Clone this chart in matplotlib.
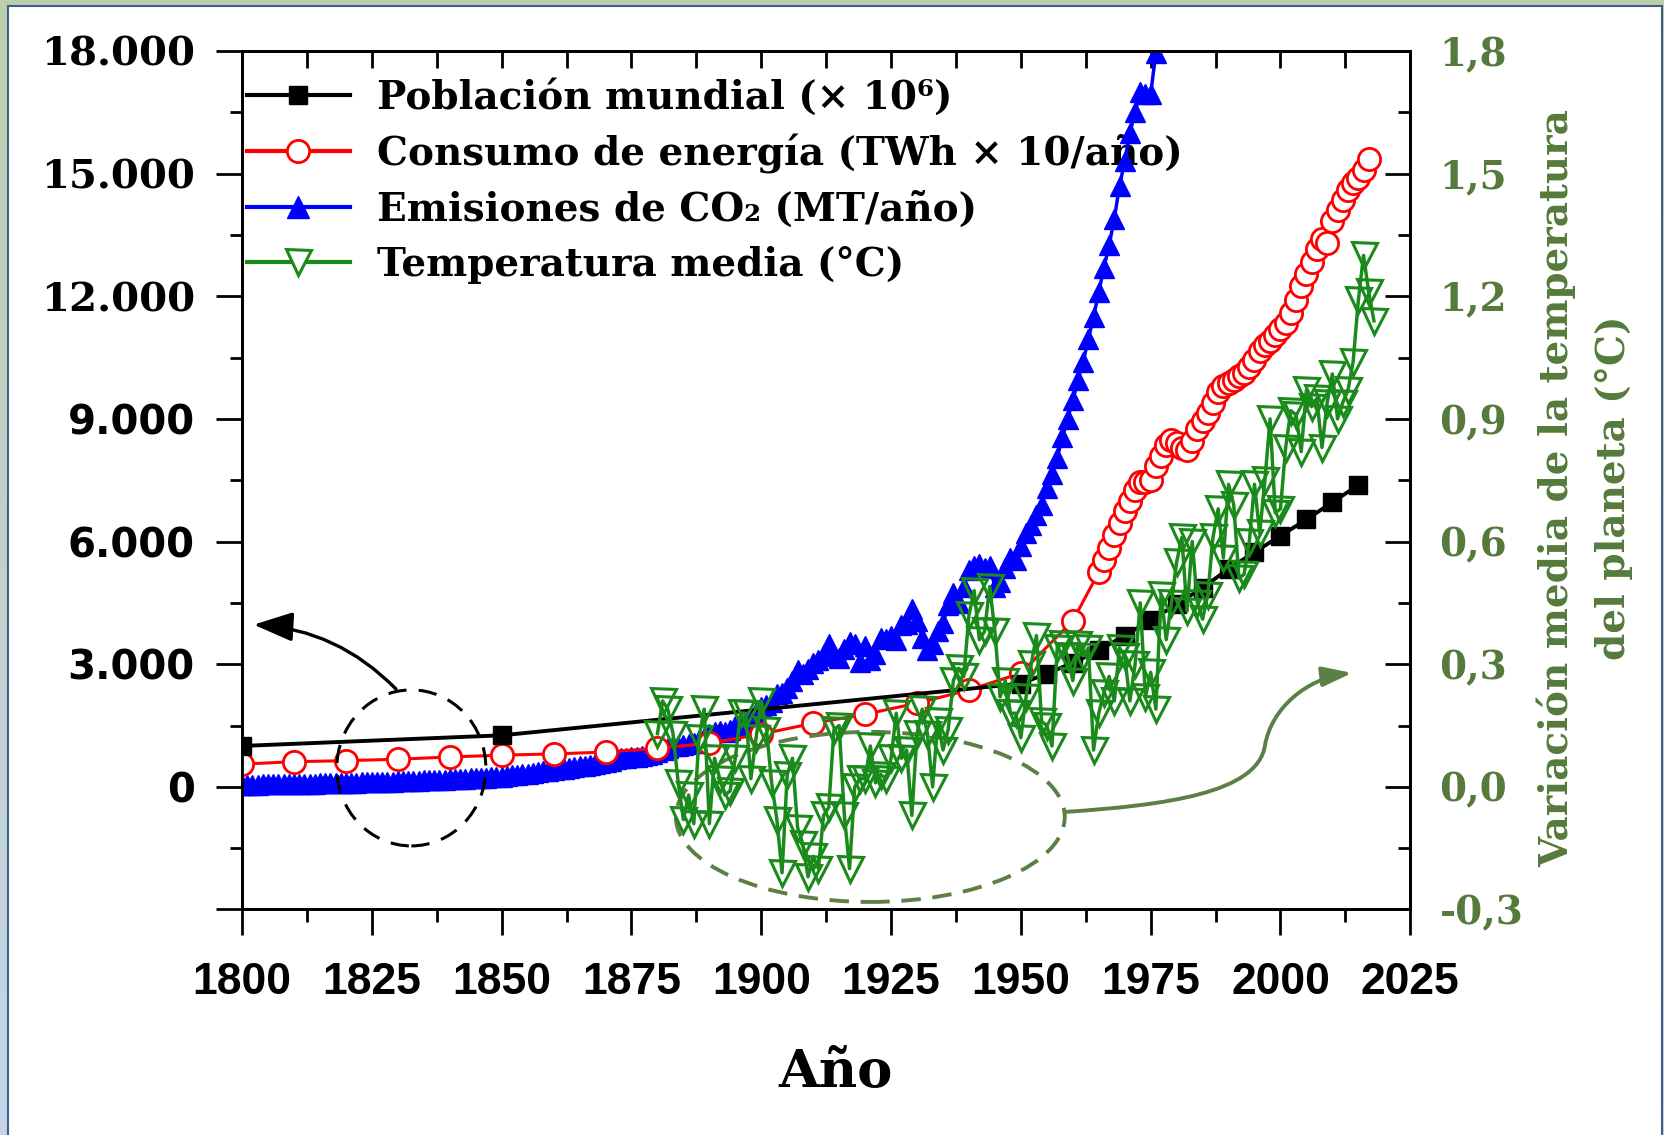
import numpy as np
import matplotlib
matplotlib.use("Agg")
import matplotlib.pyplot as plt
from matplotlib.patches import Ellipse, FancyArrowPatch, Rectangle
from matplotlib.path import Path
from matplotlib.lines import Line2D
from matplotlib.colors import LinearSegmentedColormap

# ---- data ----
pop_years = [1800, 1850, 1950, 1955, 1960, 1965, 1970, 1975, 1980, 1985,
             1990, 1995, 2000, 2005, 2010, 2015]
population = [1000, 1260, 2525, 2770, 3030, 3340, 3700, 4080, 4460, 4870,
              5330, 5740, 6140, 6540, 6960, 7380]

energy_years = [1800, 1810, 1820, 1830, 1840, 1850, 1860, 1870, 1880, 1890,
                1900, 1910, 1920, 1930, 1940, 1950, 1960,
                1965, 1966, 1967, 1968, 1969, 1970, 1971, 1972, 1973, 1974,
                1975, 1976, 1977, 1978, 1979, 1980, 1981, 1982, 1983, 1984,
                1985, 1986, 1987, 1988, 1989, 1990, 1991, 1992, 1993, 1994,
                1995, 1996, 1997, 1998, 1999, 2000, 2001, 2002, 2003, 2004,
                2005, 2006, 2007, 2008, 2009, 2010, 2011, 2012, 2013, 2014,
                2015, 2016, 2017]
energy = [555, 615, 640, 675, 730, 775, 805, 850, 945, 1065,
          1290, 1555, 1775, 2045, 2370, 2780, 4060,
          5250, 5550, 5850, 6150, 6450, 6750, 7000, 7250, 7450, 7450,
          7500, 7850, 8100, 8350, 8480, 8400, 8300, 8250, 8450, 8750,
          8950, 9150, 9400, 9650, 9800, 9880, 9960, 10040, 10130, 10260,
          10450, 10650, 10800, 10900, 11050, 11200, 11350, 11600, 11900, 12250,
          12550, 12850, 13150, 13400, 13300, 13850, 14100, 14350, 14600, 14780,
          14900, 15100, 15350]

co2_years = list(range(1800, 1977))
co2 = [50, 52, 54, 56, 58, 60, 62, 64, 66, 68,
       70, 72, 74, 77, 80, 83, 86, 89, 92, 95,
       98, 101, 104, 107, 110, 114, 118, 122, 126, 130,
       134, 138, 142, 146, 150, 155, 160, 165, 170, 175,
       180, 186, 192, 198, 205, 212, 220, 228, 236, 244,
       252, 265, 280, 295, 310, 325, 345, 365, 380, 395,
       410, 430, 445, 460, 480, 500, 520, 545, 570, 590,
       610, 640, 680, 710, 700, 720, 740, 760, 770, 800,
       850, 900, 950, 1000, 1010, 1020, 1040, 1080, 1150, 1200,
       1300, 1350, 1370, 1350, 1400, 1480, 1540, 1600, 1680, 1800,
       1950, 2000, 2080, 2270, 2300, 2420, 2580, 2850, 2760, 2880,
       3030, 3100, 3250, 3500, 3200, 3150, 3380, 3550, 3500, 3050,
       3450, 3100, 3250, 3650, 3620, 3700, 3600, 3950, 3980, 4350,
       4050, 3650, 3350, 3500, 3800, 4000, 4450, 4750, 4500, 4900,
       5300, 5400, 5450, 5350, 5400, 4900, 5000, 5350, 5600, 5550,
       5900, 6200, 6400, 6650, 6900, 7300, 7650, 8050, 8550, 9000,
       9450, 9950, 10400, 10950, 11500, 12100, 12700, 13250, 13900, 14700,
       15300, 16000, 16500, 17000, 16950, 16950, 17950]

temp_years = list(range(1880, 2019))
temp = [0.13, 0.21, 0.19, 0.13, 0.01, -0.08, -0.02, -0.09, 0.12, 0.19,
        -0.09, 0.07, 0.02, -0.02, -0.01, 0.07, 0.18, 0.18, 0.02, 0.12,
        0.21, 0.14, 0.01, -0.08, -0.21, 0.03, 0.07, -0.10, -0.14, -0.22,
        -0.17, -0.20, -0.07, -0.05, 0.14, 0.15, -0.07, -0.20, 0.00, 0.02,
        0.02, 0.10, 0.01, 0.03, 0.02, 0.07, 0.18, 0.07, 0.09, -0.07,
        0.13, 0.19, 0.13, 0.00, 0.16, 0.09, 0.14, 0.26, 0.29, 0.27,
        0.42, 0.48, 0.36, 0.38, 0.49, 0.38, 0.22, 0.26, 0.18, 0.18,
        0.12, 0.22, 0.30, 0.37, 0.16, 0.15, 0.10, 0.34, 0.35, 0.32,
        0.26, 0.35, 0.32, 0.34, 0.09, 0.18, 0.23, 0.27, 0.21, 0.34,
        0.32, 0.21, 0.30, 0.45, 0.22, 0.28, 0.19, 0.47, 0.36, 0.45,
        0.55, 0.61, 0.43, 0.60, 0.45, 0.41, 0.47, 0.61, 0.68, 0.56,
        0.74, 0.69, 0.51, 0.52, 0.60, 0.74, 0.62, 0.75, 0.90, 0.67,
        0.68, 0.83, 0.92, 0.91, 0.82, 0.97, 0.93, 0.95, 0.83, 0.94,
        1.01, 0.90, 0.94, 0.97, 1.04, 1.19, 1.30, 1.21, 1.14]

left_ticks = [-3000, 0, 3000, 6000, 9000, 12000, 15000, 18000]
left_labels = ["", "0", "3.000", "6.000", "9.000", "12.000", "15.000", "18.000"]
right_ticks = [-0.3, 0.0, 0.3, 0.6, 0.9, 1.2, 1.5, 1.8]
right_labels = ["-0,3", "0,0", "0,3", "0,6", "0,9", "1,2", "1,5", "1,8"]
x_ticks = [1800, 1825, 1850, 1875, 1900, 1925, 1950, 1975, 2000, 2025]

labels = ["Población mundial (× 10⁶)",
          "Consumo de energía (TWh × 10/año)",
          "Emisiones de CO₂ (MT/año)",
          "Temperatura media (°C)"]

serif = ["DejaVu Serif", "DejaVu Sans"]
tgreen = "#1a8a1a"
olive = "#5b7f45"
axgreen = "#557a3c"

fig = plt.figure(figsize=(16.65, 11.35), dpi=100)

# background frame
bg = fig.add_axes([0, 0, 1, 1], zorder=-10)
cmap = LinearSegmentedColormap.from_list("bg", ["#bccfac", "#c4d5ec"])
bg.imshow(np.linspace(0, 1, 256).reshape(-1, 1), aspect="auto", cmap=cmap,
          extent=[0, 1, 0, 1], origin="upper")
bg.add_patch(Rectangle((8 / 1665, -0.01), 1654 / 1665, 1129 / 1135 + 0.01,
                       facecolor="white", edgecolor="#3f5f86", lw=1.5))
bg.set_xlim(0, 1)
bg.set_ylim(0, 1)
bg.set_axis_off()

ax = fig.add_axes([0.1454, 0.1987, 0.7016, 0.7564])
ax.patch.set_alpha(0)

ax.plot(co2_years, co2, color="blue", marker="^", ms=15, lw=2.5, zorder=2)
ax.plot(energy_years, energy, color="red", marker="o", mfc="white", mec="red",
        mew=2, ms=16, lw=2.2, zorder=3)
ax.plot(pop_years, population, color="black", marker="s", ms=13, lw=2.8, zorder=4)

ax.set_xlim(1800, 2025)
ax.set_ylim(-3000, 18000)
ax.set_xticks(x_ticks)
ax.set_xticks(np.arange(1812.5, 2025, 25), minor=True)
ax.set_xticklabels([str(x) for x in x_ticks], family="Liberation Sans",
                   weight="bold", size=32)
ax.set_yticks(left_ticks)
ax.set_yticks(np.arange(-1500, 18000, 3000), minor=True)
ylabs = ax.set_yticklabels(left_labels)
for t in ylabs:
    if len(t.get_text()) > 5:
        t.set_fontproperties({"family": serif, "weight": "bold", "size": 29})
    else:
        t.set_fontproperties({"family": "DejaVu Sans", "weight": "bold", "size": 29})

ax.tick_params(axis="x", which="major", direction="out", length=19, width=2, pad=19)
ax.tick_params(axis="x", which="minor", direction="out", length=9, width=2)
ax.tick_params(axis="y", which="major", direction="out", length=19, width=2, pad=15)
ax.tick_params(axis="y", which="minor", direction="out", length=9, width=2)
for s in ax.spines.values():
    s.set_linewidth(2)

top = ax.secondary_xaxis("top")
top.set_xticks(np.arange(1812.5, 2025, 12.5))
top.tick_params(direction="in", length=12, width=2, labeltop=False)
top.spines["top"].set_linewidth(2)

# temperature on the right axis
ax2 = ax.twinx()
ax2.plot(temp_years, temp, color=tgreen, marker="v", mfc="none", mec=tgreen,
         mew=2.2, ms=18, lw=2.5)
ax2.set_ylim(-0.3, 1.8)
ax2.set_yticks(right_ticks)
ax2.set_yticks(np.arange(-0.15, 1.8, 0.3), minor=True)
ax2.set_yticklabels(right_labels, family=serif, weight="bold", size=28, color=axgreen)
ax2.tick_params(axis="y", which="major", direction="in", length=18, width=2, pad=21)
ax2.tick_params(axis="y", which="minor", direction="in", length=9, width=2)
for s in ax2.spines.values():
    s.set_linewidth(2)

# annotations
ax.add_patch(Ellipse((1832.6, 463), 28.7, 3816, fill=False, ec="black", lw=2.2,
                     ls=(0, (6, 4)), zorder=6))
ax.add_patch(FancyArrowPatch((1830.0, 2346), (1801.7, 3970),
                             connectionstyle="arc3,rad=0.2",
                             arrowstyle="-|>,head_length=0.8,head_width=0.3",
                             mutation_scale=30, color="black", lw=2.4, zorder=6))
ax.add_patch(Ellipse((1921.0, -736), 74.9, 4159, fill=False, ec=olive, lw=2.8,
                     ls=(0, (5, 3)), zorder=6))
verts = [(1958.5, -614), (1978, -450), (1995.5, -150), (1997, 1000),
         (1998.2, 1920), (2005, 2650), (2013.8, 2786)]
codes = [Path.MOVETO] + [Path.CURVE4] * 6
ax.add_patch(FancyArrowPatch(path=Path(verts, codes), transform=ax.transData,
                             arrowstyle="-|>,head_length=0.6,head_width=0.2",
                             mutation_scale=30, color=olive, lw=2.8, zorder=6))

handles = [Line2D([], [], color="black", marker="s", ms=13, lw=3),
           Line2D([], [], color="red", marker="o", mfc="white", mew=2, ms=16, lw=3),
           Line2D([], [], color="blue", marker="^", ms=16, lw=3),
           Line2D([], [], color=tgreen, marker="v", mfc="white", mew=2.2, ms=18, lw=3)]
leg = ax.legend(handles, labels, loc="upper left", bbox_to_anchor=(0.004, 0.968),
                frameon=False, prop={"family": serif, "weight": "bold", "size": 28},
                handlelength=2.65, handletextpad=0.7, labelspacing=0.44,
                borderpad=0, borderaxespad=0)
leg.set_zorder(1.5)

fig.text(836 / 1665, 1 - 1073 / 1135, "Año", ha="center", va="center",
         family=serif, weight="bold", size=38)
fig.text(1585 / 1665, 1 - 488 / 1135,
         "Variación media de la temperatura\ndel planeta (°C)",
         rotation=90, ha="center", va="center", multialignment="center",
         family=serif, weight="bold", size=28, color=axgreen, linespacing=1.65)

fig.savefig("out.png", dpi=100)
